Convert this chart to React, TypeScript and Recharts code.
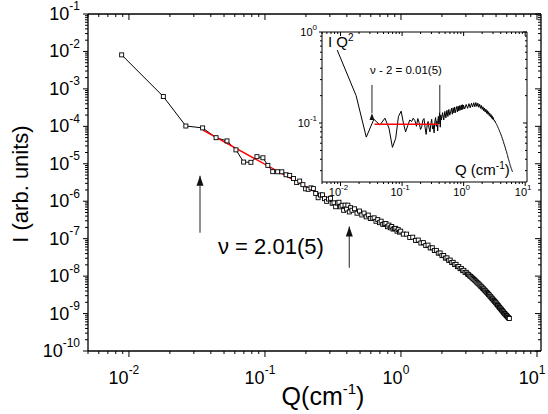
import React from 'react';
import { ComposedChart, Line, XAxis, YAxis } from 'recharts';

// Q values (cm^-1) of the measured points
const qValues = [
  0.00884, 0.0179, 0.0262, 0.0348, 0.0437, 0.0526, 0.0612, 0.0697, 0.0788, 0.0873,
  0.0966, 0.105, 0.114, 0.124, 0.133, 0.143, 0.152, 0.162, 0.171, 0.18,
  0.19, 0.199, 0.208, 0.218, 0.227, 0.236, 0.246, 0.256, 0.265, 0.274,
  0.284, 0.293, 0.303, 0.312, 0.322, 0.331, 0.341, 0.35, 0.36, 0.369,
  0.379, 0.388, 0.398, 0.407, 0.417, 0.426, 0.436,
  0.455, 0.475, 0.495, 0.515, 0.535, 0.555, 0.575, 0.595, 0.615, 0.635,
  0.655, 0.675, 0.695, 0.715, 0.735, 0.755, 0.775, 0.795, 0.815, 0.835,
  0.855, 0.875, 0.895, 0.915, 0.935, 0.955, 0.975, 0.995,
  1.04, 1.1, 1.16, 1.22, 1.28, 1.34, 1.4, 1.46, 1.52, 1.58,
  1.64, 1.7, 1.76, 1.82, 1.88, 1.94, 2.0, 2.06, 2.12, 2.18,
  2.24, 2.3, 2.36, 2.42, 2.48, 2.54, 2.6, 2.66, 2.72, 2.78,
  2.84, 2.9, 2.96, 3.02, 3.08, 3.14, 3.2, 3.26, 3.32, 3.38,
  3.44, 3.5, 3.56, 3.62, 3.68, 3.74, 3.8, 3.86, 3.92, 3.98,
  4.04, 4.1, 4.16, 4.22, 4.28, 4.34, 4.4, 4.46, 4.52, 4.58,
  4.64, 4.7, 4.76, 4.82, 4.88, 4.94, 5.0, 5.06, 5.12, 5.18,
  5.24, 5.3, 5.36, 5.42, 5.48, 5.54, 5.6, 5.66, 5.72, 5.78,
  5.84, 5.9, 5.96, 6.02, 6.08, 6.14, 6.2, 6.26,
];

// I·Q² (x10^6)
const iq2Values = [
  0.633, 0.2, 0.07, 0.11, 0.095, 0.113, 0.088, 0.054, 0.068, 0.118,
  0.135, 0.1, 0.08, 0.094, 0.108, 0.104, 0.113, 0.106, 0.092, 0.112,
  0.1, 0.085, 0.09, 0.108, 0.112, 0.09, 0.075, 0.096, 0.104, 0.088,
  0.08, 0.098, 0.11, 0.086, 0.094, 0.078, 0.104, 0.115, 0.092, 0.106,
  0.082, 0.118, 0.098, 0.13, 0.09, 0.122, 0.109,
  0.13, 0.108, 0.134, 0.114, 0.138, 0.118, 0.141, 0.122, 0.132, 0.145,
  0.125, 0.147, 0.129, 0.15, 0.13, 0.142, 0.152, 0.132, 0.153, 0.136,
  0.155, 0.138, 0.15, 0.158, 0.139, 0.159, 0.142, 0.157,
  0.143, 0.16, 0.145, 0.163, 0.147, 0.165, 0.15, 0.167, 0.151, 0.168,
  0.152, 0.165, 0.149, 0.161, 0.145, 0.156, 0.141, 0.151, 0.136, 0.146,
  0.132, 0.142, 0.128, 0.137, 0.125, 0.133, 0.121, 0.128, 0.117, 0.124,
  0.113, 0.12, 0.11, 0.115, 0.108, 0.108, 0.104, 0.104, 0.1, 0.099,
  0.096, 0.094, 0.092, 0.089, 0.087, 0.085, 0.083, 0.08, 0.079, 0.076,
  0.075, 0.072, 0.071, 0.068, 0.067, 0.065, 0.063, 0.062, 0.059, 0.058,
  0.056, 0.055, 0.053, 0.052, 0.05, 0.049, 0.048, 0.046, 0.045, 0.044,
  0.042, 0.041, 0.04, 0.039, 0.038, 0.037, 0.036, 0.035, 0.034, 0.0335,
  0.0328, 0.032, 0.0315, 0.031, 0.0303, 0.0298, 0.0293, 0.029,
];

// power-law fit, nu = 2.01(5)
const fitQ = [0.035, 0.42];
const fitI = [7.9e-5, 5.5e-7];
const insetFitQ = [0.0357, 0.385];
const insetFitIQ2 = [0.097, 0.097];

// arrows marking the fit range
const arrowQ = [0.0333, 0.417];
const arrowTail = [1.43e-7, 1.66e-8];
const arrowHead = [4.8e-6, 2.1e-7];
const insetArrowQ = [0.0324, 0.41];
const insetArrowTail = [0.262, 0.262];
const insetArrowHead = [0.129, 0.129];

const qMajor = [0.01, 0.1, 1, 10];
const iMajor = [1e-10, 1e-9, 1e-8, 1e-7, 1e-6, 1e-5, 1e-4, 1e-3, 1e-2, 1e-1];
const insetMajor = [0.1, 1];

const Q_DOMAIN = [0.005, 10.7];
const I_DOMAIN = [1e-10, 0.1];
const INSET_DOMAIN = [0.0225, 1];

const withMinors = (majors: number[], lo: number, hi: number) => {
  const out: number[] = [];
  majors.concat([majors[0] / 10]).forEach((m) => {
    for (let k = 1; k < 10; k++) {
      const v = +(m * k).toPrecision(6);
      if (v >= lo * 0.9999 && v <= hi * 1.0001) out.push(v);
    }
  });
  return Array.from(new Set(out)).sort((a, b) => a - b);
};

const font = '"Liberation Sans", Arial, sans-serif';

const mainData = qValues.map((q, k) => ({ q, i: (iq2Values[k] / (q * q)) * 1e-6 }));
const insetData = qValues.map((q, k) => ({ q, i: iq2Values[k] }));
const fitData = fitQ.map((q, k) => ({ q, i: fitI[k] }));
const insetFitData = insetFitQ.map((q, k) => ({ q, i: insetFitIQ2[k] }));

type TickOpts = {
  side: 'left' | 'bottom' | 'top' | 'right';
  majors: number[];
  major: number;
  minor: number;
  fs?: number;
  sup?: number;
  gap?: number;
  shift?: number;
};

const logTick = (o: TickOpts) => (props: any) => {
  const { x, y, payload } = props;
  const v = payload.value as number;
  const isMajor = o.majors.some((m) => Math.abs(m - v) / m < 1e-6);
  const len = isMajor ? o.major : o.minor;
  const exp = Math.round(Math.log10(v));
  const lbl = (tx: number, ty: number, anchor: string) => (
    <text x={tx} y={ty} textAnchor={anchor} dominantBaseline="central" fontFamily={font} fontSize={o.fs} fill="#000">
      <tspan>10</tspan>
      <tspan dy={-(o.fs || 10) * 0.42} fontSize={o.sup}>{exp}</tspan>
    </text>
  );
  if (o.side === 'left') {
    return (
      <g>
        <line x1={x} y1={y} x2={x - len} y2={y} stroke="#000" strokeWidth={1} />
        {o.fs && isMajor ? lbl(x - o.major - (o.gap || 0), y, 'end') : null}
      </g>
    );
  }
  if (o.side === 'bottom') {
    return (
      <g>
        <line x1={x} y1={y} x2={x} y2={y + len} stroke="#000" strokeWidth={1} />
        {o.fs && isMajor ? lbl(x - (o.shift || 0), y + o.major + (o.gap || 0), 'middle') : null}
      </g>
    );
  }
  if (o.side === 'top') {
    return <line x1={x} y1={y} x2={x} y2={y + len} stroke="#000" strokeWidth={1} />;
  }
  return <line x1={x} y1={y} x2={x - len} y2={y} stroke="#000" strokeWidth={1} />;
};

const squareDot = (p: any) => (
  <rect key={`d${p.index}`} x={p.cx - 2} y={p.cy - 2} width={4} height={4} fill="#fff" stroke="#000" strokeWidth={0.9} />
);

const arrowDot = (size: number, color: string) => (p: any) =>
  p.index === 1 ? (
    <polygon
      key={`a${p.index}`}
      points={`${p.cx},${p.cy} ${p.cx - size * 0.35},${p.cy + size} ${p.cx + size * 0.35},${p.cy + size}`}
      fill={color}
    />
  ) : (
    <g key={`a${p.index}`} />
  );

const axisLine = { stroke: '#000', strokeWidth: 1.3 };
const thinAxis = { stroke: '#000', strokeWidth: 1 };

export default function App() {
  const qTicks = withMinors(qMajor, Q_DOMAIN[0], Q_DOMAIN[1]);
  const iTicks = withMinors(iMajor, I_DOMAIN[0], I_DOMAIN[1]);
  const insetTicks = withMinors(insetMajor, INSET_DOMAIN[0], INSET_DOMAIN[1]);

  return (
    <div style={{ position: 'absolute', left: 0, top: 0, width: 548, height: 414, background: '#fff', fontFamily: font }}>
      <ComposedChart width={548} height={414} margin={{ top: 13, right: 6, bottom: 23, left: 8 }}>
        <XAxis
          dataKey="q"
          type="number"
          scale="log"
          domain={Q_DOMAIN}
          allowDataOverflow
          ticks={qTicks}
          interval={0}
          height={40}
          tickSize={0}
          tickMargin={0}
          tickLine={false}
          axisLine={axisLine}
          tick={logTick({ side: 'bottom', majors: qMajor, major: 6, minor: 3, fs: 18, sup: 12, gap: 21, shift: 5 })}
        />
        <XAxis
          xAxisId="t"
          orientation="top"
          dataKey="q"
          type="number"
          scale="log"
          domain={Q_DOMAIN}
          allowDataOverflow
          ticks={qTicks}
          interval={0}
          height={1}
          tickSize={0}
          tickMargin={0}
          tickLine={false}
          axisLine={axisLine}
          tick={logTick({ side: 'top', majors: qMajor, major: 6, minor: 3 })}
        />
        <YAxis
          type="number"
          scale="log"
          domain={I_DOMAIN}
          allowDataOverflow
          ticks={iTicks}
          interval={0}
          width={80}
          tickSize={0}
          tickMargin={0}
          tickLine={false}
          axisLine={axisLine}
          tick={logTick({ side: 'left', majors: iMajor, major: 5, minor: 3, fs: 18, sup: 12, gap: 3 })}
        />
        <YAxis
          yAxisId="r"
          orientation="right"
          type="number"
          scale="log"
          domain={I_DOMAIN}
          allowDataOverflow
          ticks={iTicks}
          interval={0}
          width={1}
          tickSize={0}
          tickMargin={0}
          tickLine={false}
          axisLine={axisLine}
          tick={logTick({ side: 'right', majors: iMajor, major: 6, minor: 3 })}
        />
        <Line xAxisId="t" yAxisId="r" data={fitData} dataKey="i" stroke="none" dot={false} isAnimationActive={false} />
        <Line data={mainData} dataKey="i" stroke="#000" strokeWidth={1} dot={squareDot} isAnimationActive={false} />
        <Line data={fitData} dataKey="i" stroke="#ff0000" strokeWidth={1.4} dot={false} isAnimationActive={false} />
        {arrowQ.map((q, k) => (
          <Line
            key={`arrow${k}`}
            data={[{ q, i: arrowTail[k] }, { q, i: arrowHead[k] }]}
            dataKey="i"
            stroke="#555"
            strokeWidth={1.3}
            dot={arrowDot(10, '#111')}
            isAnimationActive={false}
          />
        ))}
      </ComposedChart>

      <div style={{ position: 'absolute', left: 290, top: 20 }}>
        <ComposedChart width={250} height={185} margin={{ top: 11, right: 12, bottom: 3, left: 2 }}>
          <XAxis
            dataKey="q"
            type="number"
            scale="log"
            domain={Q_DOMAIN}
            allowDataOverflow
            ticks={qTicks}
            interval={0}
            height={20}
            tickSize={0}
            tickMargin={0}
            tickLine={false}
            axisLine={thinAxis}
            tick={logTick({ side: 'bottom', majors: qMajor, major: 4, minor: 2, fs: 11, sup: 8, gap: 6, shift: 2 })}
          />
          <XAxis
            xAxisId="t"
            orientation="top"
            dataKey="q"
            type="number"
            scale="log"
            domain={Q_DOMAIN}
            allowDataOverflow
            ticks={qTicks}
            interval={0}
            height={1}
            tickSize={0}
            tickMargin={0}
            tickLine={false}
            axisLine={thinAxis}
            tick={logTick({ side: 'top', majors: qMajor, major: 4, minor: 2 })}
          />
          <YAxis
            type="number"
            scale="log"
            domain={INSET_DOMAIN}
            allowDataOverflow
            ticks={insetTicks}
            interval={0}
            width={30}
            tickSize={0}
            tickMargin={0}
            tickLine={false}
            axisLine={thinAxis}
            tick={logTick({ side: 'left', majors: insetMajor, major: 3, minor: 2, fs: 11, sup: 8, gap: 2 })}
          />
          <YAxis
            yAxisId="r"
            orientation="right"
            type="number"
            scale="log"
            domain={INSET_DOMAIN}
            allowDataOverflow
            ticks={insetTicks}
            interval={0}
            width={1}
            tickSize={0}
            tickMargin={0}
            tickLine={false}
            axisLine={thinAxis}
            tick={logTick({ side: 'right', majors: insetMajor, major: 4, minor: 2 })}
          />
          <Line xAxisId="t" yAxisId="r" data={insetFitData} dataKey="i" stroke="none" dot={false} isAnimationActive={false} />
          <Line data={insetData} dataKey="i" stroke="#000" strokeWidth={1} dot={false} isAnimationActive={false} />
          <Line data={insetFitData} dataKey="i" stroke="#ff0000" strokeWidth={1.4} dot={false} isAnimationActive={false} />
          {insetArrowQ.map((q, k) => (
            <Line
              key={`iarrow${k}`}
              data={[{ q, i: insetArrowTail[k] }, { q, i: insetArrowHead[k] }]}
              dataKey="i"
              stroke="#222"
              strokeWidth={1}
              dot={arrowDot(7, '#111')}
              isAnimationActive={false}
            />
          ))}
        </ComposedChart>
      </div>

      <div style={{ position: 'absolute', left: 21, top: 184, transform: 'translate(-50%, -50%) rotate(-90deg)', fontSize: 22, whiteSpace: 'nowrap', lineHeight: 1 }}>
        I (arb. units)
      </div>
      <div style={{ position: 'absolute', left: 323, top: 396, transform: 'translate(-50%, -50%)', fontSize: 25, whiteSpace: 'nowrap', lineHeight: 1 }}>
        Q(cm<span style={{ fontSize: 15, position: 'relative', top: -11 }}>-1</span>)
      </div>
      <div style={{ position: 'absolute', left: 218, top: 247, transform: 'translateY(-50%)', fontSize: 22, whiteSpace: 'nowrap', lineHeight: 1 }}>
        ν = 2.01(5)
      </div>
      <div style={{ position: 'absolute', left: 328, top: 41, transform: 'translateY(-50%)', fontSize: 15, whiteSpace: 'nowrap', lineHeight: 1 }}>
        I Q<span style={{ fontSize: 10, position: 'relative', top: -6 }}>2</span>
      </div>
      <div style={{ position: 'absolute', left: 370, top: 71, transform: 'translateY(-50%)', fontSize: 11.5, whiteSpace: 'nowrap', lineHeight: 1 }}>
        ν - 2 = 0.01(5)
      </div>
      <div style={{ position: 'absolute', left: 455, top: 169, transform: 'translateY(-50%)', fontSize: 15, whiteSpace: 'nowrap', lineHeight: 1 }}>
        Q (cm<span style={{ fontSize: 10, position: 'relative', top: -6 }}>-1</span>)
      </div>
    </div>
  );
}
